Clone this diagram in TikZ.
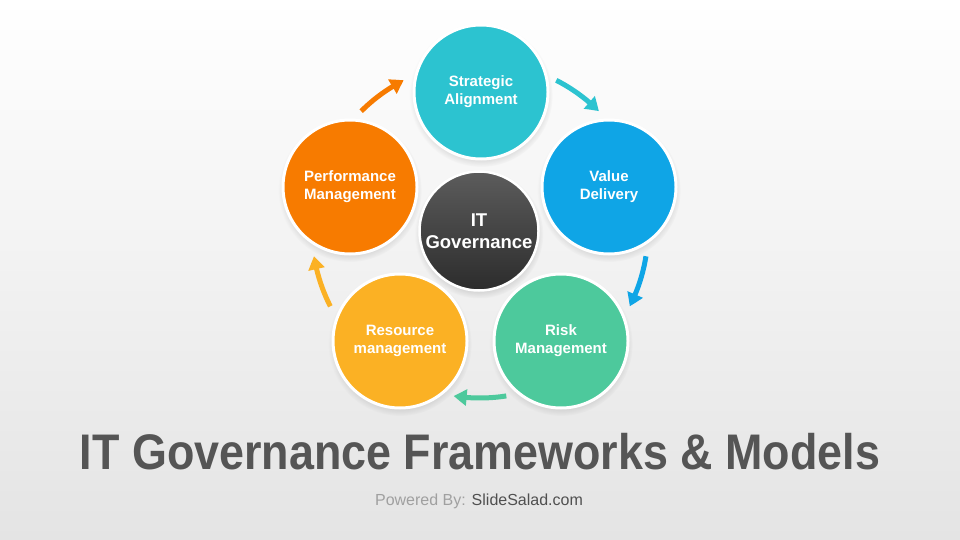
\documentclass[tikz,border=0pt]{standalone}
\usepackage{fontspec}
\setmainfont{Liberation Sans}
\usetikzlibrary{arrows.meta,bending,shadows}
\definecolor{cteal}{RGB}{44,195,208}
\definecolor{cblue}{RGB}{15,165,230}
\definecolor{cgreen}{RGB}{77,201,156}
\definecolor{cyellow}{RGB}{251,177,36}
\definecolor{corange}{RGB}{247,123,0}
\definecolor{cdtop}{RGB}{92,92,92}
\definecolor{cdbot}{RGB}{44,44,44}
\definecolor{titlegray}{RGB}{85,85,85}
\definecolor{pgray}{RGB}{160,160,160}
\definecolor{dgray}{RGB}{80,80,80}
\definecolor{bgbot}{RGB}{228,228,228}
\definecolor{bgmid}{RGB}{243,243,243}
\begin{document}
\begin{tikzpicture}[x=1pt,y=-1pt,
  bubble/.style={circle, minimum size=134pt, inner sep=0pt, draw=white, line width=3pt,
    text=white, align=center, font=\bfseries\fontsize{15}{18}\selectfont,
    circular drop shadow={shadow xshift=0pt, shadow yshift=-3pt, shadow scale=1.07, opacity=0.3}},
  hub/.style={circle, minimum size=119pt, inner sep=0pt, draw=white, line width=2.5pt,
    top color=cdtop, bottom color=cdbot, text=white, align=center,
    font=\bfseries\fontsize{18.5}{22}\selectfont,
    circular drop shadow={shadow xshift=0pt, shadow yshift=-3pt, shadow scale=1.08, opacity=0.3}},
  cyc/.style={line width=5pt, -{Triangle[bend,length=13pt,width=16pt]}}]
\useasboundingbox (0,0) rectangle (960,540);
\shade[top color=white, middle color=bgmid, bottom color=bgbot] (0,0) rectangle (960,540);
\coordinate (O) at (480,230);
% arrows
\draw[cyc, draw=corange] ([shift={(-135:168)}]O) arc[start angle=-135, end angle=-117, radius=168];
\draw[cyc, draw=cteal] ([shift={(-63:168)}]O) arc[start angle=-63, end angle=-45, radius=168];
\draw[cyc, draw=cblue] ([shift={(9:168)}]O) arc[start angle=9, end angle=27, radius=168];
\draw[cyc, draw=cgreen] ([shift={(81:168)}]O) arc[start angle=81, end angle=99, radius=168];
\draw[cyc, draw=cyellow] ([shift={(153:168)}]O) arc[start angle=153, end angle=171, radius=168];
% hub
\node[hub] (itg) at (479,231) {IT\\Governance};
% bubbles
\node[bubble, fill=cteal] (sa) at (481,92) {Strategic\\Alignment};
\node[bubble, fill=cblue] (vd) at (609,187) {Value\\Delivery};
\node[bubble, fill=cgreen] (rm) at (561,341) {Risk\\Management};
\node[bubble, fill=cyellow] (rs) at (400,341) {Resource\\management};
\node[bubble, fill=corange] (pm) at (350,187) {Performance\\Management};
% title
\node[anchor=base, text=titlegray, font=\bfseries\fontsize{50}{60}\selectfont] (title) at (480,469)
  {\scalebox{0.897}[1]{IT Governance Frameworks \& Models}};
\node[anchor=base, font=\fontsize{16}{19}\selectfont] (foot) at (479,505)
  {\textcolor{pgray}{Powered By:} \textcolor{dgray}{SlideSalad.com}};
\end{tikzpicture}
\end{document}
